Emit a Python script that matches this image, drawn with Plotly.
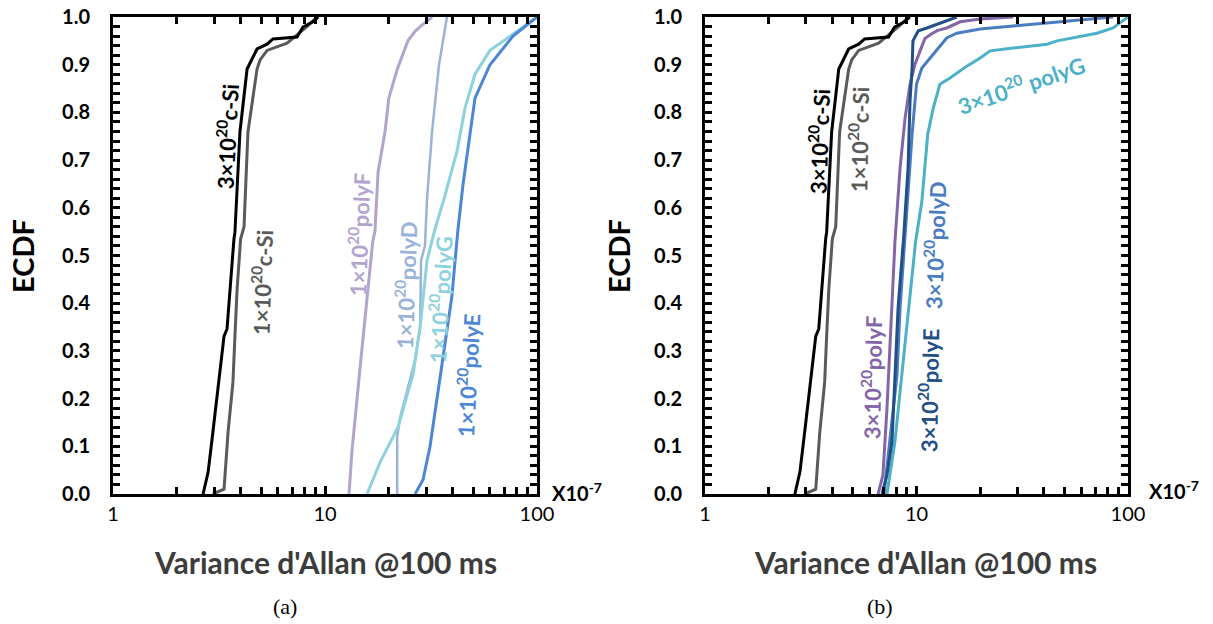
import plotly.graph_objects as go

# ---------------- data (Allan variance x1e-7, ECDF) ----------------
csi3_x = [2.66, 2.81, 2.96, 3.16, 3.34, 3.45, 3.56, 3.72, 3.76, 3.97, 4.29, 4.78, 5.33, 5.68, 7.38, 7.62, 7.87, 8.78, 9.3]
csi3_y = [0.0, 0.046, 0.13, 0.235, 0.331, 0.346, 0.43, 0.535, 0.549, 0.759, 0.891, 0.933, 0.943, 0.954, 0.958, 0.968, 0.979, 0.99, 1.0]
csi1_x = [2.96, 3.34, 3.49, 3.68, 3.76, 3.85, 4.0, 4.15, 4.33, 4.78, 4.94, 5.33, 6.62, 7.62, 8.22, 9.17]
csi1_y = [0.0, 0.01, 0.13, 0.235, 0.331, 0.43, 0.535, 0.56, 0.759, 0.891, 0.91, 0.93, 0.945, 0.967, 0.98, 1.0]

a_polyF_x = [12.98, 13.4, 14.6, 16.3, 16.8, 17.2, 17.8, 19.2, 20.0, 21.9, 24.6, 26.6, 28.1, 32.0]
a_polyF_y = [0.0, 0.09, 0.26, 0.47, 0.53, 0.55, 0.675, 0.76, 0.83, 0.89, 0.95, 0.97, 0.98, 1.0]
a_polyD_x = [21.9, 21.9, 22.6, 26.6, 28.1, 28.4, 29.6, 30.3, 32.0, 34.5, 37.6]
a_polyD_y = [0.0, 0.12, 0.16, 0.28, 0.35, 0.49, 0.52, 0.62, 0.76, 0.9, 1.0]
a_polyG_x = [15.8, 18.2, 22.1, 26.0, 28.1, 30.3, 33.0, 36.5, 42.0, 45.8, 51.0, 60.0, 80.5, 100.0]
a_polyG_y = [0.0, 0.067, 0.14, 0.25, 0.35, 0.49, 0.555, 0.62, 0.72, 0.81, 0.88, 0.93, 0.97, 1.0]
a_polyE_x = [26.6, 29.0, 31.3, 33.0, 35.6, 37.6, 39.7, 41.0, 42.4, 44.8, 48.3, 51.0, 60.0, 77.1, 100.0]
a_polyE_y = [0.0, 0.03, 0.10, 0.17, 0.28, 0.35, 0.415, 0.485, 0.555, 0.65, 0.76, 0.83, 0.9, 0.96, 1.0]

b_polyF_x = [6.58, 6.94, 7.25, 7.49, 7.74, 7.91, 8.36, 8.83, 9.32, 9.84, 10.4, 10.96, 11.8, 12.6, 13.9, 16.1, 20.0, 28.6]
b_polyF_y = [0.0, 0.04, 0.179, 0.319, 0.46, 0.529, 0.683, 0.788, 0.859, 0.901, 0.929, 0.955, 0.965, 0.972, 0.977, 0.99, 0.996, 1.0]
b_polyE_x = [6.87, 7.25, 7.66, 7.91, 8.18, 8.7, 9.12, 9.32, 9.53, 9.62, 10.2, 11.2, 15.5]
b_polyE_y = [0.0, 0.04, 0.11, 0.25, 0.389, 0.54, 0.683, 0.824, 0.893, 0.95, 0.971, 0.977, 1.0]
b_polyD_x = [7.02, 7.49, 8.09, 8.36, 8.8, 9.53, 10.0, 10.6, 11.6, 12.6, 13.9, 15.5, 20.0, 28.6, 41.4, 59.3, 85.0]
b_polyD_y = [0.0, 0.11, 0.25, 0.389, 0.54, 0.754, 0.859, 0.893, 0.914, 0.933, 0.956, 0.966, 0.975, 0.981, 0.987, 0.994, 1.0]
b_polyG_x = [7.25, 7.49, 7.91, 8.36, 8.83, 9.3, 9.9, 10.6, 11.3, 12.0, 12.9, 14.4, 17.3, 20.0, 22.3, 28.6, 41.4, 46.2, 59.3, 71.3, 85.0, 100.0]
b_polyG_y = [0.0, 0.04, 0.11, 0.214, 0.319, 0.424, 0.529, 0.613, 0.754, 0.809, 0.859, 0.872, 0.897, 0.914, 0.929, 0.935, 0.943, 0.95, 0.96, 0.966, 0.977, 1.0]

x_major = [1, 10, 100]
x_minor = [2, 3, 4, 5, 6, 7, 8, 9, 20, 30, 40, 50, 60, 70, 80, 90]
y_major = [0.0, 0.1, 0.2, 0.3, 0.4, 0.5, 0.6, 0.7, 0.8, 0.9, 1.0]
y_minor = [i / 50 for i in range(51) if i % 5 != 0]

# ---------------- styling ----------------
FONT = "Lato"
C_BLACK = "#000000"
C_GREY = "#5a5a5a"
colA = {"F": "#b3a4cf", "D": "#9ab3d9", "G": "#8dd2de", "E": "#4c87d6"}
colB = {"F": "#8366a8", "D": "#4a7cc0", "G": "#4bb0c8", "E": "#214f86"}

fig = go.Figure()

def add(x, y, color, xa, ya, w=3):
    fig.add_trace(go.Scatter(x=x, y=y, mode="lines", line=dict(color=color, width=w),
                             xaxis=xa, yaxis=ya, showlegend=False, hoverinfo="skip"))

# panel (a)
add(a_polyF_x, a_polyF_y, colA["F"], "x", "y")
add(a_polyD_x, a_polyD_y, colA["D"], "x", "y", 2.5)
add(a_polyG_x, a_polyG_y, colA["G"], "x", "y")
add(a_polyE_x, a_polyE_y, colA["E"], "x", "y")
add(csi1_x, csi1_y, C_GREY, "x", "y")
add(csi3_x, csi3_y, C_BLACK, "x", "y")
# panel (b)
add(b_polyG_x, b_polyG_y, colB["G"], "x2", "y2")
add(b_polyD_x, b_polyD_y, colB["D"], "x2", "y2")
add(b_polyF_x, b_polyF_y, colB["F"], "x2", "y2")
add(b_polyE_x, b_polyE_y, colB["E"], "x2", "y2")
add(csi1_x, csi1_y, C_GREY, "x2", "y2")
add(csi3_x, csi3_y, C_BLACK, "x2", "y2")

W, H = 1213, 624
def px(xp): return xp / W
def py(yp): return 1 - yp / H

minor_style = dict(ticks="inside", ticklen=7, tickwidth=3, tickcolor="black", showgrid=False)
xa_common = dict(type="log", range=[0, 2], tickmode="array", tickvals=x_major,
                 ticks="inside", ticklen=8, tickwidth=3, tickcolor="black",
                 minor=dict(tickmode="array", tickvals=x_minor, **minor_style),
                 showline=True, linecolor="black", linewidth=3, mirror="ticks",
                 showgrid=False, zeroline=False, automargin=False,
                 tickfont=dict(family=FONT, size=20, color="black"))
ya_common = dict(range=[0, 1], tickmode="array", tickvals=y_major, tickformat=".1f",
                 ticks="inside", ticklen=7, tickwidth=3, tickcolor="black",
                 minor=dict(tickmode="array", tickvals=y_minor, **minor_style),
                 showline=True, linecolor="black", linewidth=3, mirror="ticks",
                 showgrid=False, zeroline=False, ticklabelstandoff=16, automargin=False,
                 tickfont=dict(family=FONT, size=20, color="black", weight="bold"))

ydom = [py(494), py(17)]
fig.update_layout(
    width=W, height=H, margin=dict(l=0, r=0, t=0, b=0, autoexpand=False),
    paper_bgcolor="white", plot_bgcolor="white",
    xaxis=dict(domain=[px(113), px(537)], anchor="y", **xa_common),
    yaxis=dict(domain=ydom, anchor="x", **ya_common),
    xaxis2=dict(domain=[px(705), px(1128)], anchor="y2", **xa_common),
    yaxis2=dict(domain=ydom, anchor="x2", **ya_common),
)

ann = []
def label(text, x, y, color, ang=-90, size=22):
    ann.append(dict(text=text, x=px(x), y=py(y), xref="paper", yref="paper", showarrow=False,
                    textangle=ang, xanchor="center", yanchor="middle",
                    font=dict(family=FONT, size=size, color=color, weight="bold")))

# panel (a) labels
label("3×10<sup>20</sup>c-Si", 226, 137, C_BLACK, -87)
label("1×10<sup>20</sup>c-Si", 262, 283, C_GREY, -88)
label("1×10<sup>20</sup>polyF", 358, 235, colA["F"], -88)
label("1×10<sup>20</sup>polyD", 406, 285, colA["D"], -88)
label("1×10<sup>20</sup>polyG", 439, 300, colA["G"], -87)
label("1×10<sup>20</sup>polyE", 467, 375, colA["E"], -87)
# panel (b) labels
label("3×10<sup>20</sup>c-Si", 819, 142, C_BLACK, -88)
label("1×10<sup>20</sup>c-Si", 858, 140, C_GREY, -89)
label("3×10<sup>20</sup>polyF", 871, 378, colB["F"], -89)
label("3×10<sup>20</sup>polyE", 928, 390, colB["E"], -89)
label("3×10<sup>20</sup>polyD", 935, 245, colB["D"], -88)
label("3×10<sup>20</sup> polyG", 1021, 85, colB["G"], -19)

# axis titles
for cx in (22, 618):
    ann.append(dict(text="ECDF", x=px(cx), y=py(256), xref="paper", yref="paper", showarrow=False,
                    textangle=-90, xanchor="center", yanchor="middle",
                    font=dict(family=FONT, size=29, color="black", weight="bold")))
for cx in (325, 925):
    ann.append(dict(text="Variance d'Allan @100 ms", x=px(cx), y=py(562), xref="paper", yref="paper",
                    showarrow=False, xanchor="center", yanchor="middle",
                    font=dict(family=FONT, size=30, color="#3c3c3c", weight="bold")))
for lx, ly in ((550, 492), (1147, 490)):
    ann.append(dict(text="X10<sup>-7</sup>", x=px(lx), y=py(ly), xref="paper", yref="paper",
                    showarrow=False, xanchor="left", yanchor="middle",
                    font=dict(family=FONT, size=20, color="black", weight="bold")))
for t, cx in (("(a)", 285), ("(b)", 880)):
    ann.append(dict(text=t, x=px(cx), y=py(606), xref="paper", yref="paper", showarrow=False,
                    xanchor="center", yanchor="middle",
                    font=dict(family="Liberation Serif", size=22, color="black")))

fig.update_layout(annotations=ann)
fig.write_html("out.html", config={"displayModeBar": False},
               post_script="document.body.style.margin='0';document.body.style.overflow='hidden';")
